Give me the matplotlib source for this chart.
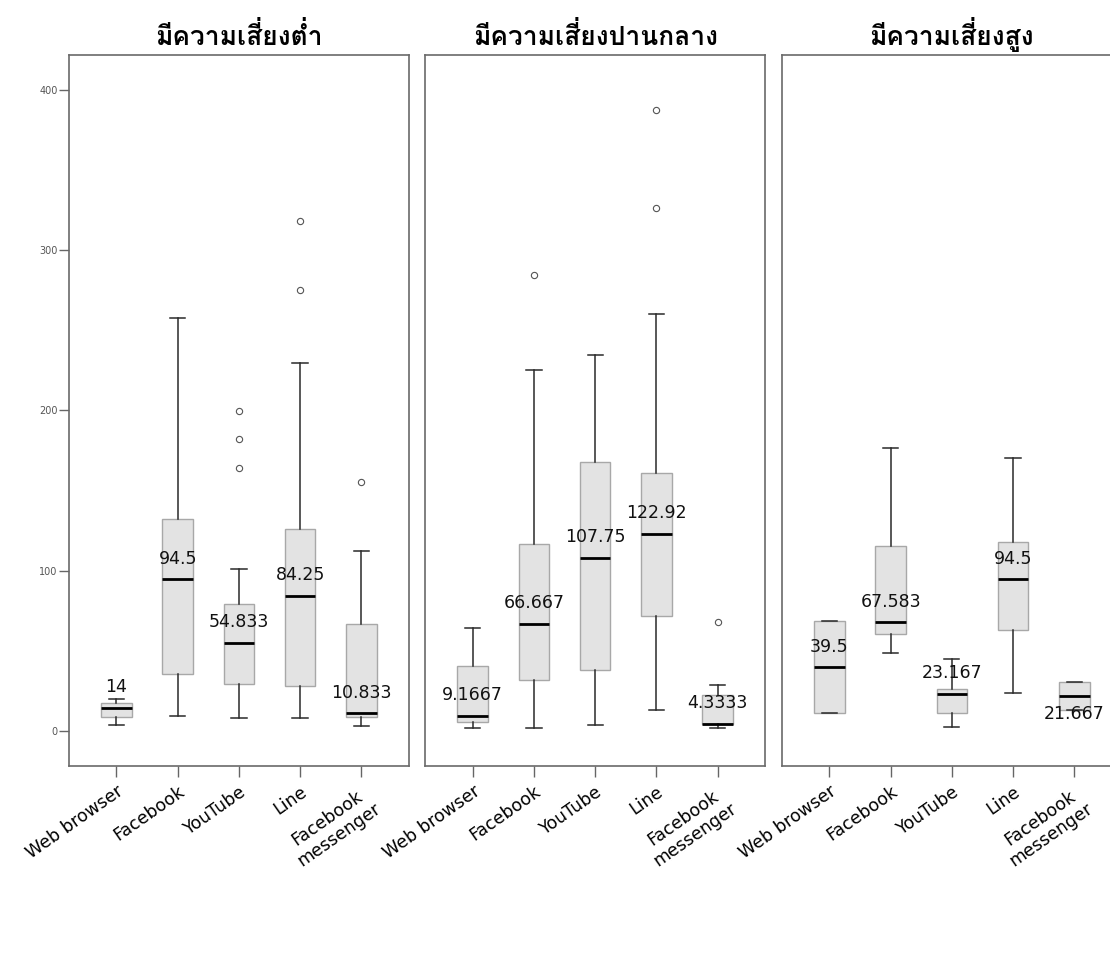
import matplotlib
matplotlib.use("Agg")
import matplotlib.pyplot as plt
from matplotlib import font_manager
from matplotlib.ft2font import FT2Font

# =========================
# ข้อมูล (อ่านจากภาพ)
# =========================
categories = ["Web browser", "Facebook", "YouTube", "Line", "Facebook\nmessenger"]
panel_titles = ["มีความเสี่ยงต่ำ", "มีความเสี่ยงปานกลาง", "มีความเสี่ยงสูง"]

# กลุ่มความเสี่ยงต่ำ
low_med = [14, 94.5, 54.833, 84.25, 10.833]
low_q1 = [8.8, 35.4, 29.2, 28.1, 8.3]
low_q3 = [17.3, 132.3, 79.2, 126.0, 66.9]
low_whislo = [3.3, 9.4, 8.1, 7.9, 2.9]
low_whishi = [20.0, 257.5, 101.0, 229.8, 112.3]
low_fliers = [[], [], [199.6, 182.0, 164.2], [318.0, 275.0], [155.4]]

# กลุ่มความเสี่ยงปานกลาง
mid_med = [9.1667, 66.667, 107.75, 122.92, 4.3333]
mid_q1 = [5.6, 31.9, 37.9, 71.9, 4.3]
mid_q3 = [40.2, 116.5, 167.9, 161.0, 22.5]
mid_whislo = [1.9, 1.9, 3.8, 12.7, 1.9]
mid_whishi = [64.4, 225.2, 234.6, 260.0, 28.6]
mid_fliers = [[], [284.4], [], [387.7, 326.7], [67.7]]

# กลุ่มความเสี่ยงสูง
high_med = [39.5, 67.583, 23.167, 94.5, 21.667]
high_q1 = [11.0, 60.4, 11.0, 62.9, 13.1]
high_q3 = [68.3, 115.6, 26.3, 117.9, 30.4]
high_whislo = [11.0, 48.8, 2.5, 23.8, 13.1]
high_whishi = [68.3, 176.4, 44.6, 170.6, 30.4]
high_fliers = [[], [], [], [], []]

median_labels = [
    ["14", "94.5", "54.833", "84.25", "10.833"],
    ["9.1667", "66.667", "107.75", "122.92", "4.3333"],
    ["39.5", "67.583", "23.167", "94.5", "21.667"],
]

panels = [
    (low_med, low_q1, low_q3, low_whislo, low_whishi, low_fliers),
    (mid_med, mid_q1, mid_q3, mid_whislo, mid_whishi, mid_fliers),
    (high_med, high_q1, high_q3, high_whislo, high_whishi, high_fliers),
]


def find_thai_font():
    """หาฟอนต์ที่มีอักษรไทย"""
    names = []
    for f in font_manager.fontManager.ttflist:
        try:
            if 0x0E21 in FT2Font(f.fname).get_charmap():
                names.append(f.name)
        except Exception:
            pass
    return names[0] if names else "DejaVu Sans"


thai_font = find_thai_font()

fig = plt.figure(figsize=(11.1, 9.59), dpi=100)

left_edges = [0.0619, 0.3829, 0.7042]
ax_w, ax_b, ax_h = 0.3066, 0.2013, 0.7414

for i, (med, q1, q3, wlo, whi, fl) in enumerate(panels):
    ax = fig.add_axes([left_edges[i], ax_b, ax_w, ax_h])
    stats = []
    for j in range(len(categories)):
        stats.append(dict(med=med[j], q1=q1[j], q3=q3[j],
                          whislo=wlo[j], whishi=whi[j], fliers=fl[j]))
    ax.bxp(stats, positions=range(1, 6), widths=0.5, patch_artist=True,
           boxprops=dict(facecolor="#e3e3e3", edgecolor="#a8a8a8", linewidth=1.0),
           medianprops=dict(color="black", linewidth=2.0),
           whiskerprops=dict(color="#2a2a2a", linewidth=1.1),
           capprops=dict(color="#2a2a2a", linewidth=1.1),
           flierprops=dict(marker="o", markersize=4.5, markerfacecolor="none",
                           markeredgecolor="#555555", markeredgewidth=0.8))

    for j, lab in enumerate(median_labels[i]):
        dy = -13 if (i == 2 and j == 4) else 15
        ax.annotate(lab, (j + 1, med[j]), xytext=(0, dy), textcoords="offset points",
                    ha="center", va="center", fontsize=12.5, color="#111111")

    ax.set_xlim(0.22, 5.78)
    ax.set_ylim(-22, 422)
    ax.set_xticks(range(1, 6))
    ax.set_xticklabels(categories, rotation=35, ha="right", va="top",
                       rotation_mode="anchor", fontsize=12.5, multialignment="center")
    ax.tick_params(axis="x", length=8, width=1.0, color="#666666", pad=4)
    if i == 0:
        ax.set_yticks([0, 100, 200, 300, 400])
        ax.tick_params(axis="y", length=7, width=1.0, color="#666666",
                       labelsize=7, labelcolor="#555555", pad=1)
    else:
        ax.set_yticks([])
    for sp in ax.spines.values():
        sp.set_color("#6a6a6a")
        sp.set_linewidth(1.2)
    ax.set_title(panel_titles[i], fontsize=19, fontweight="bold",
                 family=[thai_font, "DejaVu Sans"], pad=7)

fig.savefig("out.png", dpi=100)
